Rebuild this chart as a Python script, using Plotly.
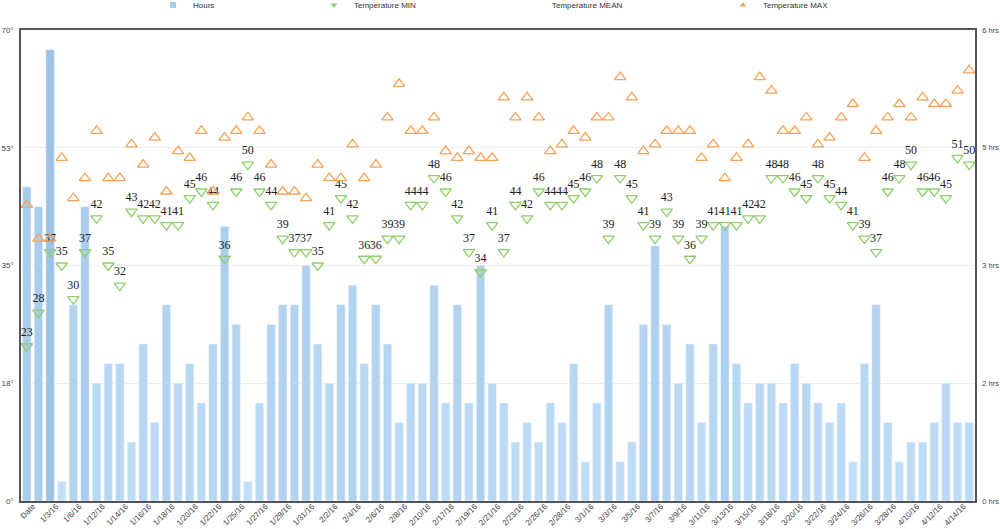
import plotly.graph_objects as go

dates = ["Date", "1/2/16", "1/3/16", "1/4/16", "1/6/16", "1/9/16", "1/12/16", "1/13/16",
         "1/14/16", "1/15/16", "1/16/16", "1/17/16", "1/18/16", "1/19/16", "1/20/16", "1/21/16",
         "1/22/16", "1/24/16", "1/25/16", "1/26/16", "1/27/16", "1/28/16", "1/29/16", "1/30/16",
         "1/31/16", "2/1/16", "2/2/16", "2/3/16", "2/4/16", "2/5/16", "2/6/16", "2/7/16",
         "2/8/16", "2/9/16", "2/10/16", "2/14/16", "2/17/16", "2/18/16", "2/19/16", "2/20/16",
         "2/21/16", "2/22/16", "2/23/16", "2/25/16", "2/26/16", "2/27/16", "2/28/16", "2/29/16",
         "3/1/16", "3/2/16", "3/3/16", "3/4/16", "3/5/16", "3/6/16", "3/7/16", "3/8/16",
         "3/9/16", "3/10/16", "3/11/16", "3/12/16", "3/13/16", "3/14/16", "3/15/16", "3/16/16",
         "3/18/16", "3/19/16", "3/20/16", "3/21/16", "3/22/16", "3/23/16", "3/24/16", "3/25/16",
         "3/26/16", "3/27/16", "3/28/16", "4/9/16", "4/10/16", "4/11/16", "4/12/16", "4/13/16",
         "4/14/16", "4/15/16"]

hours = [4.0, 3.75, 5.75, 0.25, 2.5, 3.75, 1.5, 1.75, 1.75, 0.75, 2.0, 1.0, 2.5, 1.5, 1.75, 1.25,
         2.0, 3.5, 2.25, 0.25, 1.25, 2.25, 2.5, 2.5, 3.0, 2.0, 1.5, 2.5, 2.75, 1.75, 2.5, 2.0,
         1.0, 1.5, 1.5, 2.75, 1.25, 2.5, 1.25, 3.0, 1.5, 1.25, 0.75, 1.0, 0.75, 1.25, 1.0, 1.75,
         0.5, 1.25, 2.5, 0.5, 0.75, 2.25, 3.25, 2.25, 1.5, 2.0, 1.0, 2.0, 3.5, 1.75, 1.25, 1.5,
         1.5, 1.25, 1.75, 1.5, 1.25, 1.0, 1.25, 0.5, 1.75, 2.5, 1.0, 0.5, 0.75, 0.75, 1.0, 1.5,
         1.0, 1.0]

temp_min = [23, 28, 37, 35, 30, 37, 42, 35, 32, 43, 42, 42, 41, 41, 45, 46,
            44, 36, 46, 50, 46, 44, 39, 37, 37, 35, 41, 45, 42, 36, 36, 39,
            39, 44, 44, 48, 46, 42, 37, 34, 41, 37, 44, 42, 46, 44, 44, 45,
            46, 48, 39, 48, 45, 41, 39, 43, 39, 36, 39, 41, 41, 41, 42, 42,
            48, 48, 46, 45, 48, 45, 44, 41, 39, 37, 46, 48, 50, 46, 46, 45,
            51, 50]

temp_max = [44, 39, 39, 51, 45, 48, 55, 48, 48, 53, 50, 54, 46, 52, 51, 55,
            46, 54, 55, 57, 55, 50, 46, 46, 45, 50, 48, 48, 53, 48, 50, 57,
            62, 55, 55, 57, 52, 51, 52, 51, 51, 60, 57, 60, 57, 52, 53, 55,
            54, 57, 57, 63, 60, 52, 53, 55, 55, 55, 51, 53, 48, 51, 53, 63,
            61, 55, 55, 57, 53, 54, 57, 59, 51, 55, 57, 59, 57, 60, 59, 59,
            61, 64]

temp_ticks = [0, 17.5, 35, 52.5, 70]
temp_labels = ["0°", "18°", "35°", "53°", "70°"]
hour_ticks = [0, 1.5, 3, 4.5, 6]
hour_labels = ["0 hrs", "2 hrs", "3 hrs", "5 hrs", "6 hrs"]

SANS = "Liberation Sans, Arial, sans-serif"
SERIF = "Liberation Serif, Times New Roman, serif"
GREEN = "#8fd06a"
ORANGE = "#f5a257"

# per-bar average colour of a light-top / darker-bottom gradient
light = (196, 224, 249)
dark = (132, 174, 218)
bar_colors = []
for h in hours:
    f = min(1.0, h / 5.8) * 0.6
    c = tuple(int(round(l + (d - l) * f)) for l, d in zip(light, dark))
    bar_colors.append("rgb(%d,%d,%d)" % c)

fig = go.Figure()

fig.add_trace(go.Bar(
    x=dates, y=hours, name="Hours", yaxis="y",
    marker=dict(color=bar_colors, line=dict(width=0.6, color="rgba(235,244,253,0.9)")),
    showlegend=False, hoverinfo="x+y",
))

fig.add_trace(go.Scatter(
    x=dates, y=temp_min, name="Temperature MIN", yaxis="y2", mode="markers+text",
    marker=dict(symbol="triangle-down-open", size=10, color=GREEN, line=dict(width=1.3)),
    text=[str(v) for v in temp_min], textposition="top center",
    textfont=dict(family=SERIF, size=12, color="#222222"),
    cliponaxis=False, showlegend=False,
))

fig.add_trace(go.Scatter(
    x=dates, y=temp_max, name="Temperature MAX", yaxis="y2", mode="markers",
    marker=dict(symbol="triangle-up-open", size=10, color=ORANGE, line=dict(width=1.3)),
    cliponaxis=False, showlegend=False,
))

# legend entries
fig.add_trace(go.Scatter(x=[None], y=[None], name="Hours", mode="markers", yaxis="y2",
                         marker=dict(symbol="square", size=6, color="#a9cdf0"), legend="legend"))
fig.add_trace(go.Scatter(x=[None], y=[None], name="Temperature MIN", mode="markers", yaxis="y2",
                         marker=dict(symbol="triangle-down", size=6, color=GREEN), legend="legend2"))
fig.add_trace(go.Scatter(x=[None], y=[None], name="Temperature MEAN", mode="markers", yaxis="y2",
                         marker=dict(symbol="circle", size=6, color="rgba(0,0,0,0)"), legend="legend3"))
fig.add_trace(go.Scatter(x=[None], y=[None], name="Temperature MAX", mode="markers", yaxis="y2",
                         marker=dict(symbol="triangle-up", size=6, color=ORANGE), legend="legend4"))

legend_common = dict(orientation="h", xref="container", yref="container", yanchor="middle",
                     xanchor="left", y=1 - 5 / 529, bgcolor="rgba(0,0,0,0)",
                     font=dict(family=SANS, size=8, color="#333333"))

fig.update_layout(
    width=1000, height=529,
    margin=dict(l=21, r=25, t=30, b=28, autoexpand=False),
    paper_bgcolor="white", plot_bgcolor="white",
    bargap=0.28,
    font=dict(family=SANS, size=8, color="#444444"),
    legend=dict(x=0.153, **legend_common),
    legend2=dict(x=0.314, **legend_common),
    legend3=dict(x=0.512, **legend_common),
    legend4=dict(x=0.723, **legend_common),
    xaxis=dict(
        type="category", categoryorder="array", categoryarray=dates,
        range=[-0.5, len(dates) - 0.5],
        tickmode="array", tickvals=dates[::2], ticktext=dates[::2],
        tickangle=-45, tickfont=dict(family=SANS, size=8, color="#444444"),
        ticks="", ticklabelshift=6, ticklabelstandoff=-4,
        showline=True, linecolor="#555555", linewidth=1.5, mirror=True,
        showgrid=False, zeroline=False, automargin=False,
    ),
    yaxis=dict(
        side="right", range=[0, 6],
        tickmode="array", tickvals=hour_ticks, ticktext=hour_labels,
        tickfont=dict(family=SANS, size=7.5, color="#444444"),
        ticks="outside", ticklen=4, tickcolor="rgba(0,0,0,0)",
        showgrid=True, gridcolor="#eeeeee", gridwidth=1,
        showline=True, linecolor="#555555", linewidth=1.5,
        zeroline=False, automargin=False,
    ),
    yaxis2=dict(
        side="left", overlaying="y", range=[0, 70],
        tickmode="array", tickvals=temp_ticks, ticktext=temp_labels,
        tickfont=dict(family=SANS, size=8, color="#444444"),
        ticks="outside", ticklen=4, tickcolor="rgba(0,0,0,0)",
        showgrid=False, showline=True, linecolor="#555555", linewidth=1.5,
        zeroline=False, automargin=False,
    ),
)

fig.write_html("out.html",
               config={"displayModeBar": False},
               post_script="document.body.style.margin='0';document.body.style.overflow='hidden';")
